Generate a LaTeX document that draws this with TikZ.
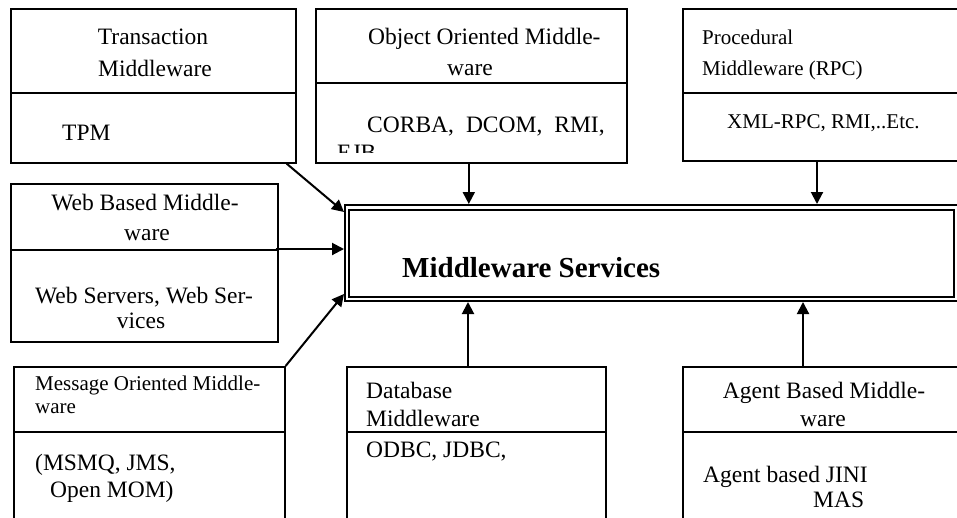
\documentclass[tikz,border=0pt]{standalone}
\usepackage{fontspec}
\setmainfont{Liberation Serif}
\usetikzlibrary{arrows.meta,calc}
\begin{document}
\begin{tikzpicture}[x=1pt,y=-1pt,
  box/.style={draw, line width=1.6pt, inner sep=0pt, anchor=north west},
  dv/.style={line width=1.6pt},
  txt/.style={inner sep=0pt, font=\fontsize{23.5}{27}\selectfont},
  stxt/.style={inner sep=0pt, font=\fontsize{21}{25}\selectfont},
  btxt/.style={inner sep=0pt, font=\fontsize{29}{33}\selectfont\bfseries},
  arr/.style={line width=2pt, -{Triangle[length=12pt,width=12pt]}}]
\useasboundingbox (0,0) rectangle (957,517);
\clip (0,0) rectangle (957,517);

% ---------- central box ----------
\node[box, line width=2pt, minimum width=616pt, minimum height=96pt] (mw) at (344,204) {};
\node[box, line width=2pt, minimum width=605pt, minimum height=87pt] (mwin) at (348,209) {};
\node[btxt, anchor=base west] (mwt) at (402,277) {Middleware Services};

% ---------- Transaction ----------
\node[box, minimum width=285pt, minimum height=154pt] (trans) at (10,8) {};
\draw[dv] ($(trans.north west)+(0,85)$) -- ($(trans.north east)+(0,85)$);
\node[txt, anchor=base] (t1) at (153,44) {Transaction};
\node[txt, anchor=base] (t2) at (155,76) {Middleware};
\node[txt, anchor=base west] (t3) at (62,140) {TPM};

% ---------- Object Oriented ----------
\node[box, minimum width=311pt, minimum height=154pt] (obj) at (315,8) {};
\draw[dv] ($(obj.north west)+(0,75)$) -- ($(obj.north east)+(0,75)$);
\node[txt, anchor=base west] (o1) at (368,44) {Object Oriented Middle-};
\node[txt, anchor=base] (o2) at (470,75) {ware};
\node[txt, anchor=base west] (o3) at (367,132) {CORBA,\hspace{12pt}DCOM,\hspace{12pt}RMI,};
\begin{scope}
  \clip (320,140) rectangle (620,152);
  \node[txt, anchor=base west] (o4) at (337,160) {EJB};
\end{scope}

% ---------- Procedural ----------
\node[box, minimum width=290pt, minimum height=152pt] (proc) at (682,8) {};
\draw[dv] ($(proc.north west)+(0,85)$) -- ($(proc.north east)+(0,85)$);
\node[stxt, anchor=base west] (p1) at (702,44) {Procedural};
\node[stxt, anchor=base west] (p2) at (702,75) {Middleware (RPC)};
\node[stxt, anchor=base west] (p3) at (727,128) {XML-RPC, RMI,..Etc.};

% ---------- Web Based ----------
\node[box, minimum width=267pt, minimum height=158pt] (web) at (10,183) {};
\draw[dv] ($(web.north west)+(0,67)$) -- ($(web.north east)+(0,67)$);
\node[txt, anchor=base] (w1) at (145,210) {Web Based Middle-};
\node[txt, anchor=base] (w2) at (147,240) {ware};
\node[txt, anchor=base] (w3) at (144,303) {Web Servers, Web Ser-};
\node[txt, anchor=base] (w4) at (141,328) {vices};

% ---------- Message Oriented ----------
\node[box, minimum width=271pt, minimum height=170pt] (msg) at (13,366) {};
\draw[dv] ($(msg.north west)+(0,66)$) -- ($(msg.north east)+(0,66)$);
\node[stxt, anchor=base west] (m1) at (35,390) {Message Oriented Middle-};
\node[stxt, anchor=base west] (m2) at (35,413) {ware};
\node[txt, anchor=base west] (m3) at (35,470) {(MSMQ, JMS,};
\node[txt, anchor=base west] (m4) at (50,497) {Open MOM)};

% ---------- Database ----------
\node[box, minimum width=259pt, minimum height=170pt] (db) at (346,366) {};
\draw[dv] ($(db.north west)+(0,66)$) -- ($(db.north east)+(0,66)$);
\node[txt, anchor=base west] (d1) at (366,398) {Database};
\node[txt, anchor=base west] (d2) at (366,426) {Middleware};
\node[txt, anchor=base west] (d3) at (366,457) {ODBC, JDBC,};

% ---------- Agent Based ----------
\node[box, minimum width=290pt, minimum height=170pt] (ag) at (682,366) {};
\draw[dv] ($(ag.north west)+(0,66)$) -- ($(ag.north east)+(0,66)$);
\node[txt, anchor=base] (a1) at (824,398) {Agent Based Middle-};
\node[txt, anchor=base] (a2) at (823,426) {ware};
\node[txt, anchor=base west] (a3) at (703,482) {Agent based JINI};
\node[txt, anchor=base west] (a4) at (813,507) {MAS};

% ---------- connectors ----------
\draw[arr] ($(trans.south east)+(-10,0)$) -- ($(mw.north west)+(0,8)$);
\draw[arr] ($(obj.south)+(-2.5,0)$) coordinate (oa) -- (oa |- mw.north);
\draw[arr] ($(proc.south west)+(135,0)$) coordinate (pa) -- (pa |- mw.north);
\draw[arr] ($(web.north east)+(-3,66)$) coordinate (wa) -- (wa -| mw.west);
\draw[arr] (msg.north east) -- ($(mw.south west)+(0,-8)$);
\draw[arr] ($(db.north west)+(122,0)$) coordinate (da) -- (da |- mw.south);
\draw[arr] ($(ag.north west)+(121,0)$) coordinate (aa) -- (aa |- mw.south);
\end{tikzpicture}
\end{document}
